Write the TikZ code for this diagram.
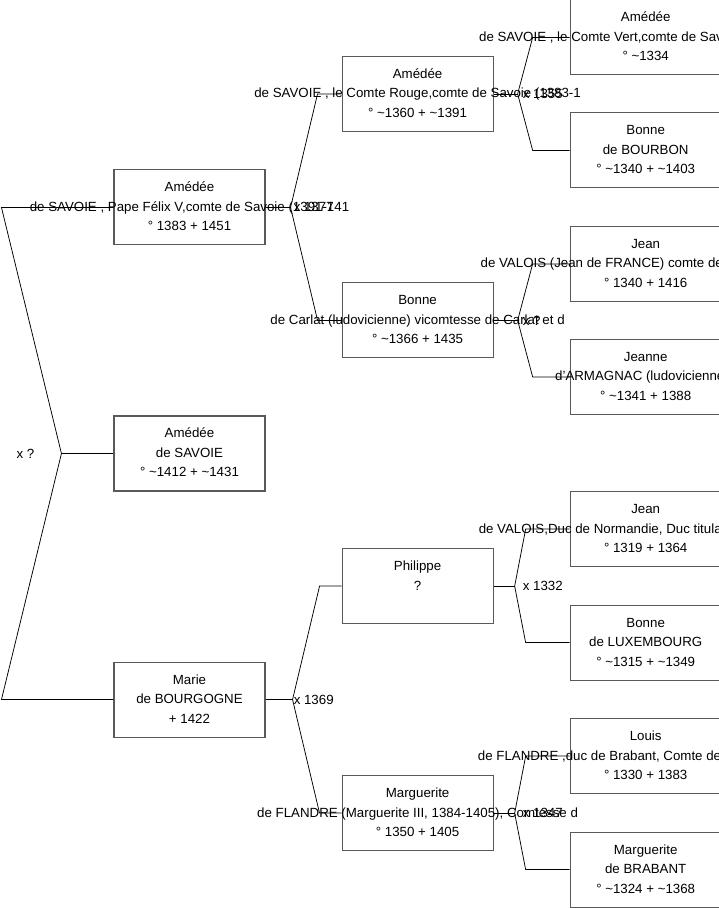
\documentclass[tikz,border=0pt]{standalone}
\usepackage{fontspec}
\setmainfont{Liberation Sans}
\usetikzlibrary{positioning,calc}
\newcommand{\appr}{\textasciitilde}
\newcommand{\who}[3]{\strut#1\\\makebox[0pt]{\strut#2}\\\strut#3}
\tikzset{
  person/.style={draw=black!65, line width=1.1pt, minimum width=151pt, minimum height=75pt,
    inner sep=2pt, align=center},
  link/.style={line width=0.75pt},
  wedlock/.style={anchor=west, inner sep=1pt},
}

\begin{document}
\begin{tikzpicture}[x=1pt, y=1pt, font=\fontsize{13.3}{19.5}\selectfont]
\useasboundingbox (0,0) rectangle (719,-908);
\fill[white] (0,0) rectangle (719,-908);
\clip (0,0) rectangle (719,-908);

\node[person] (s) at (189.5,-453.5) {\who{Amédée}{de SAVOIE}{° \appr1412 + \appr1431}};
\node[person, above=170pt of s] (f) {\who{Amédée}{de SAVOIE , Pape Félix V,comte de Savoie (1391-141}{° 1383 + 1451}};
\node[person, below=170pt of s] (m) {\who{Marie}{de BOURGOGNE}{+ 1422}};

\node[person, right=76pt of f, yshift=113.5pt] (cr) {\who{Amédée}{de SAVOIE , le Comte Rouge,comte de Savoie (1383-1}{° \appr1360 + \appr1391}};
\node[person, right=76pt of f, yshift=-113pt] (bc) {\who{Bonne}{de Carlat (ludovicienne) vicomtesse de Carlat et d}{° \appr1366 + 1435}};
\node[person, right=76pt of m, yshift=113.5pt] (ph) {\who{Philippe}{?}{}};
\node[person, right=76pt of m, yshift=-113.5pt] (mf) {\who{Marguerite}{de FLANDRE (Marguerite III, 1384-1405), Comtesse d}{° 1350 + 1405}};

\node[person, right=76pt of cr, yshift=56.5pt] (cv) {\who{Amédée}{de SAVOIE , le Comte Vert,comte de Savoie (1343-1383}{° \appr1334}};
\node[person, right=76pt of cr, yshift=-56.5pt] (bb) {\who{Bonne}{de BOURBON}{° \appr1340 + \appr1403}};
\node[person, right=76pt of bc, yshift=56.5pt] (jb) {\who{Jean}{de VALOIS (Jean de FRANCE) comte de Poitiers, duc d}{° 1340 + 1416}};
\node[person, right=76pt of bc, yshift=-56.5pt] (ja) {\who{Jeanne}{d'ARMAGNAC (ludovicienne),~}{° \appr1341 + 1388}};
\node[person, right=76pt of ph, yshift=57pt] (jn) {\who{Jean}{de VALOIS,Duc de Normandie, Duc titulaire de Guyenne}{° 1319 + 1364}};
\node[person, right=76pt of ph, yshift=-56.5pt] (bl) {\who{Bonne}{de LUXEMBOURG}{° \appr1315 + \appr1349}};
\node[person, right=76pt of mf, yshift=57pt] (lf) {\who{Louis}{de FLANDRE ,duc de Brabant, Comte de Nevers, Comte}{° 1330 + 1383}};
\node[person, right=76pt of mf, yshift=-56.5pt] (mb) {\who{Marguerite}{de BRABANT}{° \appr1324 + \appr1368}};

\draw[link] (s.west) -- ++(-52,0) coordinate (r);
\draw[link] (f.west) -- ++(-112,0) -- (r) -- ($(m.west)+(-112,0)$) -- (m.west);
\draw[link] (f.east) -- ++(25,0) coordinate (k1);
\draw[link] (cr.west) -- ++(-24,0) -- (k1) -- ($(bc.west)+(-24,0)$) -- (bc.west);
\draw[link] (m.east) -- ++(27,0) coordinate (k2);
\draw[link] (ph.west) -- ++(-22,0) -- (k2) -- ($(mf.west)+(-22,0)$) -- (mf.west);
\draw[link] (cr.east) -- ++(24,0) coordinate (k3);
\draw[link] (cv.west) -- ++(-37,0) -- (k3) -- ($(bb.west)+(-37,0)$) -- (bb.west);
\draw[link] (bc.east) -- ++(24,0) coordinate (k4);
\draw[link] (jb.west) -- ++(-37,0) -- (k4) -- ($(ja.west)+(-37,0)$) -- (ja.west);
\draw[link] (ph.east) -- ++(21,0) coordinate (k5);
\draw[link] (jn.west) -- ++(-44,0) -- (k5) -- ($(bl.west)+(-44,0)$) -- (bl.west);
\draw[link] (mf.east) -- ++(21,0) coordinate (k6);
\draw[link] (lf.west) -- ++(-44,0) -- (k6) -- ($(mb.west)+(-44,0)$) -- (mb.west);

\node[anchor=east, inner sep=1pt] (w0) at ($(r)+(-26,0)$) {x ?};
\node[wedlock] (w1) at ($(f.east)+(27,0)$) {x 1377};
\node[wedlock] (w2) at ($(m.east)+(27,0)$) {x 1369};
\node[wedlock] (w3) at ($(cr.east)+(28,0)$) {x 1355};
\node[wedlock] (w4) at ($(bc.east)+(28,0)$) {x ?};
\node[wedlock] (w5) at ($(ph.east)+(28,0)$) {x 1332};
\node[wedlock] (w6) at ($(mf.east)+(28,0)$) {x 1347};
\end{tikzpicture}
\end{document}
